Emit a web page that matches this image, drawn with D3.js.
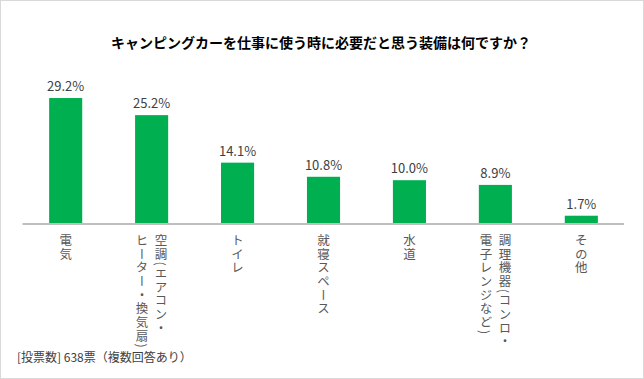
<!DOCTYPE html>
<html>
<head>
<meta charset="utf-8">
<script src="https://cdn.jsdelivr.net/npm/d3@7"></script>
<style>
  body { margin: 0; background: #fff; }
  text { font-family: "Noto Sans CJK JP", "Noto Sans", sans-serif; }
</style>
</head>
<body>
<div id="chart"></div>
<script>
// data
var categories = ["電気", "空調(エアコン・ヒーター・換気扇)", "トイレ", "就寝スペース", "水道", "調理機器(コンロ・電子レンジなど)", "その他"];
// label columns for the vertical axis text (right column first)
var labelLines = [
  ["電気"],
  ["空調(エアコン・", "ヒーター・換気扇)"],
  ["トイレ"],
  ["就寝スペース"],
  ["水道"],
  ["調理機器(コンロ・", "電子レンジなど)"],
  ["その他"]
];
var values = [29.2, 25.2, 14.1, 10.8, 10.0, 8.9, 1.7];
var title = "キャンピングカーを仕事に使う時に必要だと思う装備は何ですか？";
var footnote = "[投票数] 638票（複数回答あり）";

var W = 644, H = 379;
var svg = d3.select("#chart").append("svg")
    .attr("width", W)
    .attr("height", H);

svg.append("rect")
    .attr("x", 0.5).attr("y", 0.5)
    .attr("width", W - 1).attr("height", H - 1)
    .attr("fill", "#fff")
    .attr("stroke", "#d9d9d9");

// title
svg.append("text")
    .attr("x", 321).attr("y", 48)
    .attr("text-anchor", "middle")
    .style("font-size", "14px")
    .style("font-weight", "bold")
    .attr("fill", "#000")
    .text(title);

var x = d3.scaleBand()
    .domain(categories)
    .range([22.5, 624.5])
    .paddingInner(0.615)
    .paddingOuter(0.31);

var y = d3.scaleLinear()
    .domain([0, 35])
    .range([223, 223 - 35 * 4.28]);

// bars
svg.selectAll(".bar")
    .data(values)
  .enter().append("rect")
    .attr("class", "bar")
    .attr("x", function(d, i) { return x(categories[i]); })
    .attr("y", function(d) { return y(d); })
    .attr("width", x.bandwidth())
    .attr("height", function(d) { return y(0) - y(d); })
    .attr("fill", "#00b050");

// value labels
svg.selectAll(".val")
    .data(values)
  .enter().append("text")
    .attr("class", "val")
    .attr("x", function(d, i) { return x(categories[i]) + x.bandwidth() / 2; })
    .attr("y", function(d) { return y(d) - 7; })
    .attr("text-anchor", "middle")
    .style("font-size", "13px")
    .attr("fill", "#404040")
    .text(function(d) { return d.toFixed(1) + "%"; });

// axis line
svg.append("line")
    .attr("x1", 22.5).attr("x2", 624)
    .attr("y1", y(0) + 1).attr("y2", y(0) + 1)
    .attr("stroke", "#bfbfbf")
    .attr("stroke-width", 2);

// vertical category labels
labelLines.forEach(function(lines, i) {
  var cx = x(categories[i]) + x.bandwidth() / 2;
  var n = lines.length;
  lines.forEach(function(line, j) {
    // first line on the right
    var off = ((n - 1) / 2 - j) * 19;
    svg.append("text")
      .attr("x", cx + off)
      .attr("y", 234)
      .style("writing-mode", "vertical-rl")
      .style("font-size", "12.5px")
      .style("letter-spacing", "1.2px")
      .attr("fill", "#595959")
      .text(line);
  });
});

// footnote
svg.append("text")
    .attr("x", 17).attr("y", 362)
    .style("font-size", "12px")
    .attr("fill", "#404040")
    .text(footnote);
</script>
</body>
</html>
